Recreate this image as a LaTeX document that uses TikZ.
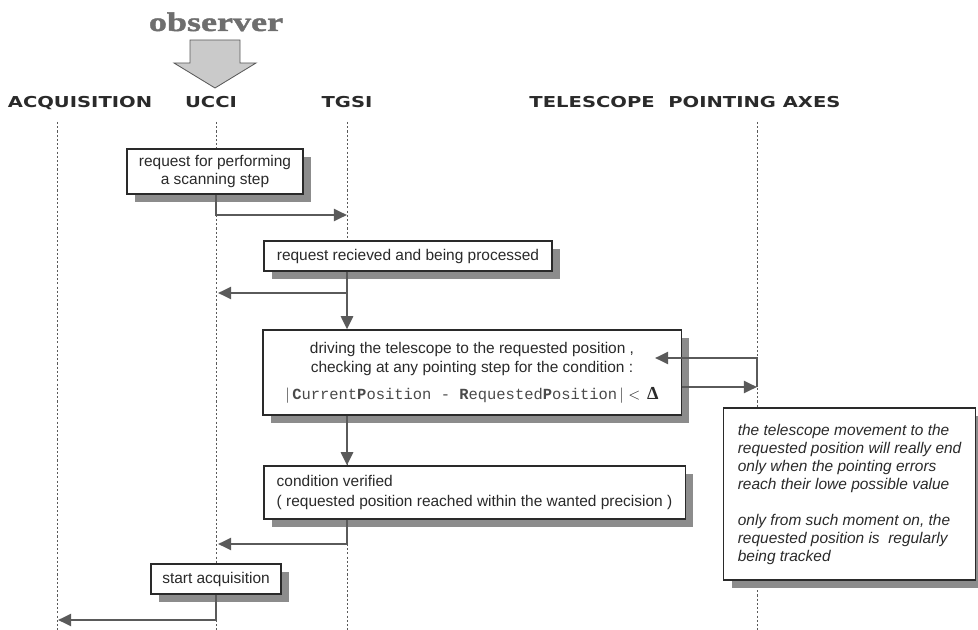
\documentclass[tikz,border=0pt]{standalone}
\usepackage{fontspec}
\setmainfont{Liberation Sans}
\newfontfamily\headfont[FakeStretch=1.3]{DejaVu Sans}
\newfontfamily\obsfont[FakeStretch=1.35,FakeBold=1.6]{Liberation Serif}
\newfontfamily\formfont{Liberation Mono}
\newfontfamily\greekfont{Liberation Serif}
\usetikzlibrary{arrows.meta,shadows}

\definecolor{inkgray}{HTML}{2A2A2A}
\definecolor{arrowgray}{HTML}{5A5A5A}
\definecolor{shadegray}{HTML}{8C8C8C}
\definecolor{obsgray}{HTML}{6E6E6E}
\definecolor{formgray}{HTML}{4A4A4A}
\definecolor{bigarrow}{HTML}{CACACA}

\tikzset{
  header/.style={anchor=base, text=inkgray, font=\headfont\bfseries\fontsize{10.7}{12}\selectfont},
  lifeline/.style={draw=arrowgray, line width=0.5pt, dash pattern=on 1.5pt off 1.5pt},
  box/.style={draw=inkgray, fill=white, line width=0.8pt, text=inkgray,
    font=\fontsize{11}{12.8}\selectfont, inner sep=0pt,
    drop shadow={shadow xshift=0.2cm, shadow yshift=-0.2cm, fill=shadegray, opacity=1}},
  msg/.style={draw=arrowgray, line width=1.8pt, -{Triangle[length=0.33cm,width=0.3cm]}}
}

\begin{document}
\begin{tikzpicture}[x=0.025cm,y=-0.025cm]
\useasboundingbox (0,0) rectangle (978,630);

% observer on top
\node[anchor=base, text=obsgray, font=\obsfont\bfseries\fontsize{19}{21}\selectfont] (obs) at (216,31) {observer};
\filldraw[fill=bigarrow, draw=arrowgray, line width=0.6pt]
  (190,40) -- (240,40) -- (240,63) -- (256,63) -- (215,88) -- (174,63) -- (190,63) -- cycle;

% headers
\node[header] (acq) at (80,108) {ACQUISITION};
\node[header] (ucci) at (211,108) {UCCI};
\node[header] (tgsi) at (347,108) {TGSI};
\node[header] (axes) at (685,108) {TELESCOPE\ \ POINTING AXES};

% lifelines
\coordinate (acqTop) at (57,122);   \coordinate (acqBot) at (57,630);
\coordinate (ucciTop) at (216,122); \coordinate (ucciBot) at (216,630);
\coordinate (tgsiTop) at (347,122); \coordinate (tgsiBot) at (347,630);
\coordinate (axesTop) at (757,122); \coordinate (axesBot) at (757,630);
\begin{scope}[lifeline]
\draw (acqTop) -- (acqBot);
\draw (ucciTop) -- (ucciBot);
\draw (tgsiTop) -- (tgsiBot);
\draw (axesTop) -- (axesBot);
\end{scope}

% boxes
\node[box, minimum width=4.4cm, minimum height=1.125cm, align=center] (scan) at (215,171.5)
  {request for performing\\a scanning step};
\node[box, minimum width=7.2cm, minimum height=0.75cm] (recv) at (408,256)
  {request recieved and being processed};
\node[box, minimum width=10.45cm, minimum height=2.125cm, align=center] (drive) at (472,372.5)
  {driving the telescope to the requested position ,\\[1pt]
   checking at any pointing step for the condition :\\[6pt]
   $\bigl|$\,{\color{formgray}\formfont\fontsize{11}{12}\selectfont\textbf{C}urrent\textbf{P}osition - \textbf{R}equested\textbf{P}osition}\,$\bigr|$ $<$\, {\greekfont\bfseries\fontsize{13}{14}\selectfont Δ}};
\node[box, minimum width=10.525cm, minimum height=1.325cm, align=left] (verif) at (474.5,492.5)
  {condition verified\\[2pt]( requested position reached within the wanted precision )};
\node[box, minimum width=3.25cm, minimum height=0.75cm] (start) at (216,579)
  {start acquisition};
\node[box, anchor=west, inner xsep=0.32cm, minimum width=6.3cm, minimum height=4.3cm, align=left, font=\itshape\fontsize{11}{12.8}\selectfont] (note) at (723,494)
  {the telescope movement to the\\
   requested position will really end\\
   only when the pointing errors\\
   reach their lowe possible value\\[12.8pt]
   only from such moment on, the\\
   requested position is\ \ regularly\\
   being tracked};

% messages
\coordinate (m1) at (347,215);
\coordinate (m2) at (218,293);
\coordinate (m3) at (757,387);
\coordinate (m4) at (655,358);
\coordinate (m5) at (218,544);
\coordinate (m6) at (58,620);
\begin{scope}[msg]
\draw (scan.south -| ucciTop) |- (m1);
\draw (recv.south -| tgsiTop) |- (m2);
\draw (recv.south -| tgsiTop) -- (drive.north -| tgsiTop);
\draw (drive.east |- m3) -- (m3);
\draw (m3) |- (m4);
\draw (drive.south -| tgsiTop) -- (verif.north -| tgsiTop);
\draw (verif.south -| tgsiTop) |- (m5);
\draw (start.south -| ucciTop) |- (m6);
\end{scope}

\end{tikzpicture}
\end{document}
